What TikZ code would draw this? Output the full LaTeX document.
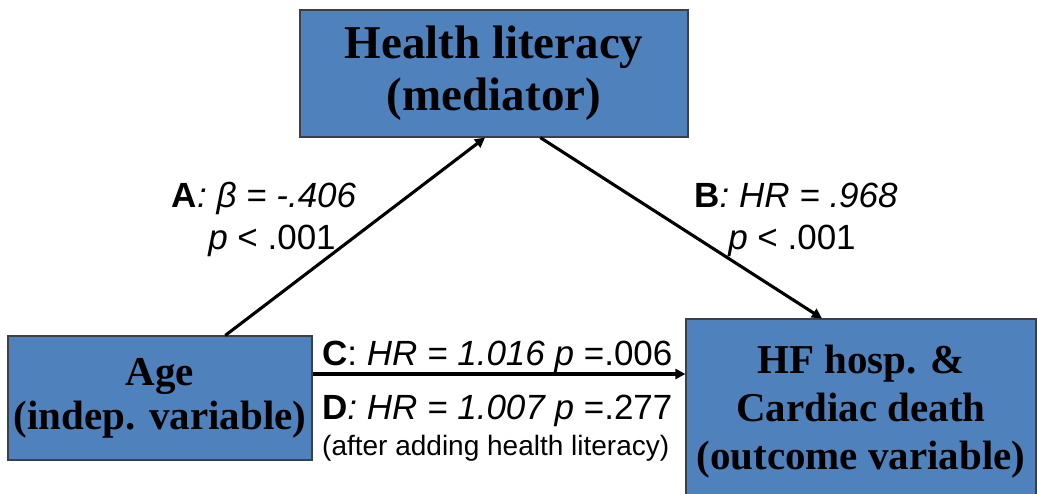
\documentclass[tikz,border=0pt]{standalone}
\usepackage{fontspec}
\setmainfont{Liberation Serif}
\setsansfont{Liberation Sans}
\usetikzlibrary{arrows.meta,calc}
\definecolor{boxblue}{HTML}{4F81BD}
\definecolor{boxline}{HTML}{3A3F48}
\begin{document}
\begin{tikzpicture}[x=1pt,y=-1pt,
  box/.style={draw=boxline, line width=1.2pt, fill=boxblue, inner sep=0pt, align=center},
  conn/.style={line width=3.1pt, -{Triangle[length=10pt,width=10pt]}},
  lab/.style={font=\sffamily\fontsize{35}{40}\selectfont, anchor=base, inner sep=0pt}]
\clip (0,0) rectangle (1037,494);
\useasboundingbox (0,0) rectangle (1037,494);
\node[box, minimum width=388pt, minimum height=127pt, font=\bfseries\fontsize{47}{52}\selectfont] (med) at (494,73.5) {Health literacy\\(mediator)};
\node[box, minimum width=304pt, minimum height=124pt, font=\bfseries\fontsize{41}{44}\selectfont] (age) at (160,398) {Age\\(indep. variable)};
\node[box, minimum width=350pt, minimum height=186pt, font=\bfseries\fontsize{41}{48}\selectfont] (out) at (861,412) {HF hosp. \&\\Cardiac death\\(outcome variable)};
\draw[conn] ($(age.north west)!0.714!(age.north east)$) -- ($(med.south west)!0.477!(med.south east)$);
\draw[conn] ($(med.south west)!0.619!(med.south east)$) -- ($(out.north west)!0.389!(out.north east)$);
\coordinate (cstart) at ($(age.east)+(0,-24)$);
\draw[conn] (cstart) -- (cstart -| out.west);
\node[lab] (la1) at (264,208) {\textbf{A}\textit{: β = -.406}};
\node[lab] (la2) at (272,250) {\textit{p} < .001};
\node[lab] (lb1) at (796,208) {\textbf{B}\textit{: HR = .968}};
\node[lab] (lb2) at (792,250) {\textit{p} < .001};
\node[lab, anchor=base west] (lc) at (322,366) {\textbf{C}: \textit{HR = 1.016 p} =.006};
\node[lab, anchor=base west] (ld) at (322,420) {\textbf{D}\textit{: HR = 1.007 p} =.277};
\node[lab, anchor=base west, font=\sffamily\fontsize{28}{32}\selectfont] (le) at (322,455) {(after adding health literacy)};
\end{tikzpicture}
\end{document}
